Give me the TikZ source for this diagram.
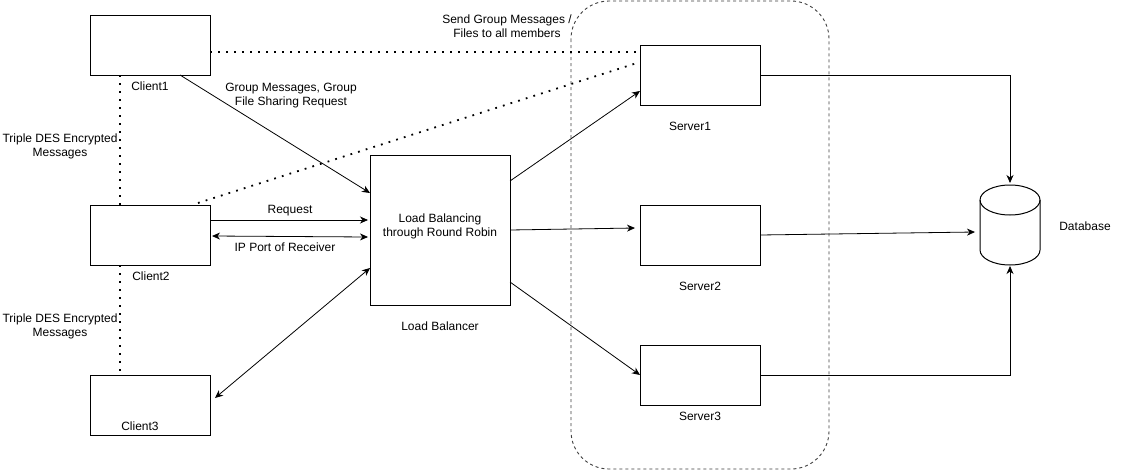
\documentclass[tikz,border=0pt]{standalone}
\usepackage{fontspec}
\setmainfont{Liberation Sans}
\usetikzlibrary{arrows.meta,calc}
\begin{document}
\begin{tikzpicture}[x=1pt,y=-1pt,
  every node/.style={font=\fontsize{12}{14}\selectfont, align=center, inner sep=0pt, outer sep=0pt},
  box/.style={draw, line width=1pt, fill=white, minimum width=120pt, minimum height=60pt},
  lbbox/.style={draw, line width=1pt, fill=white, minimum width=140pt, minimum height=150pt},
  conn/.style={line width=0.8pt, -{Stealth[length=8pt,width=7pt,inset=2.5pt]}},
  biconn/.style={line width=0.8pt, {Stealth[length=8pt,width=7pt,inset=2.5pt]}-{Stealth[length=8pt,width=7pt,inset=2.5pt]}},
  dotline/.style={line width=1.8pt, dash pattern=on 1.8pt off 6.2pt}
]
\useasboundingbox (0,0) rectangle (1131,471);
\fill[white] (0,0) rectangle (1131,471);

% server group outline
\draw[line width=0.9pt, black!75, dash pattern=on 3pt off 3pt, rounded corners=38pt]
  (571,1) rectangle (829,469);

% clients
\node[box] (c1) at (150,45) {};
\node[box] (c2) at (150,235) {};
\node[box] (c3) at (150,405) {};
\node (c1l) at (150,86) {Client1};
\node (c2l) at (151,276) {Client2};
\node (c3l) at (140,426) {Client3};

% load balancer
\node[lbbox] (lb) at (440,230) {};
\node (lbt) at (440,226) {Load Balancing\\through Round Robin};
\node (lbl) at (440,326) {Load Balancer};

% servers
\node[box] (s1) at (700,75) {};
\node[box] (s2) at (700,235) {};
\node[box] (s3) at (700,375) {};
\node (s1l) at (690,126) {Server1};
\node (s2l) at (700,286) {Server2};
\node (s3l) at (700,416) {Server3};

% database cylinder
\node[minimum width=60pt, minimum height=80pt] (db) at (1010,225) {};
\draw[line width=1pt, fill=white]
  (980,200) -- (980,250) arc[start angle=180, end angle=0, x radius=30, y radius=15]
  -- (1040,200) arc[start angle=0, end angle=-180, x radius=30, y radius=15] -- cycle;
\draw[line width=1pt] (980,200) arc[start angle=180, end angle=0, x radius=30, y radius=15];
\node (dbl) at (1085,226) {Database};

% encrypted links between clients
\draw[dotline] ($(c1.south)+(-30,0)$) -- ($(c2.north)+(-30,0)$);
\draw[dotline] ($(c2.south)+(-30,0)$) -- ($(c3.north)+(-30,0)$);
\node (tdes1) at (60,146) {Triple DES Encrypted\\Messages};
\node (tdes2) at (60,326) {Triple DES Encrypted\\Messages};

% group broadcast links
\draw[dotline] ($(c1.east)+(0,7)$) -- ($(s1.west)+(-3,-23)$);
\draw[dotline] ($(c2.north)+(48,-2)$) -- ($(s1.west)+(-3,-12)$);
\node (bcast) at (507,26) {Send Group Messages /\\Files to all members};

% client to load balancer
\draw[conn] ($(c1.south east)+(-30,0)$) -- ($(lb.west)+(0,-37)$);
\node (grp) at (291,96) {Group Messages, Group\\File Sharing Request};
\draw[conn] ($(c2.east)+(0,-15)$) -- ($(lb.west)+(-2,-10)$);
\node (req) at (290,211) {Request};
\draw[biconn] ($(c2.east)+(2,1)$) -- ($(lb.west)+(-2,7)$);
\node (ipp) at (285,247) {IP Port of Receiver};
\draw[biconn] ($(lb.west)+(0,38)$) -- ($(c3.east)+(5,-7)$);

% load balancer to servers
\draw[conn] ($(lb.east)+(0,-49)$) -- ($(s1.west)+(0,16)$);
\draw[conn] (lb.east) -- ($(s2.west)+(-5,-7)$);
\draw[conn] ($(lb.east)+(0,52)$) -- (s3.west);

% servers to database
\draw[conn] (s1.east) -| ($(db.north)+(0,-2)$);
\draw[conn] (s2.east) -- ($(db.west)+(-5,7)$);
\draw[conn] (s3.east) -| ($(db.south)+(0,1)$);
\end{tikzpicture}
\end{document}
